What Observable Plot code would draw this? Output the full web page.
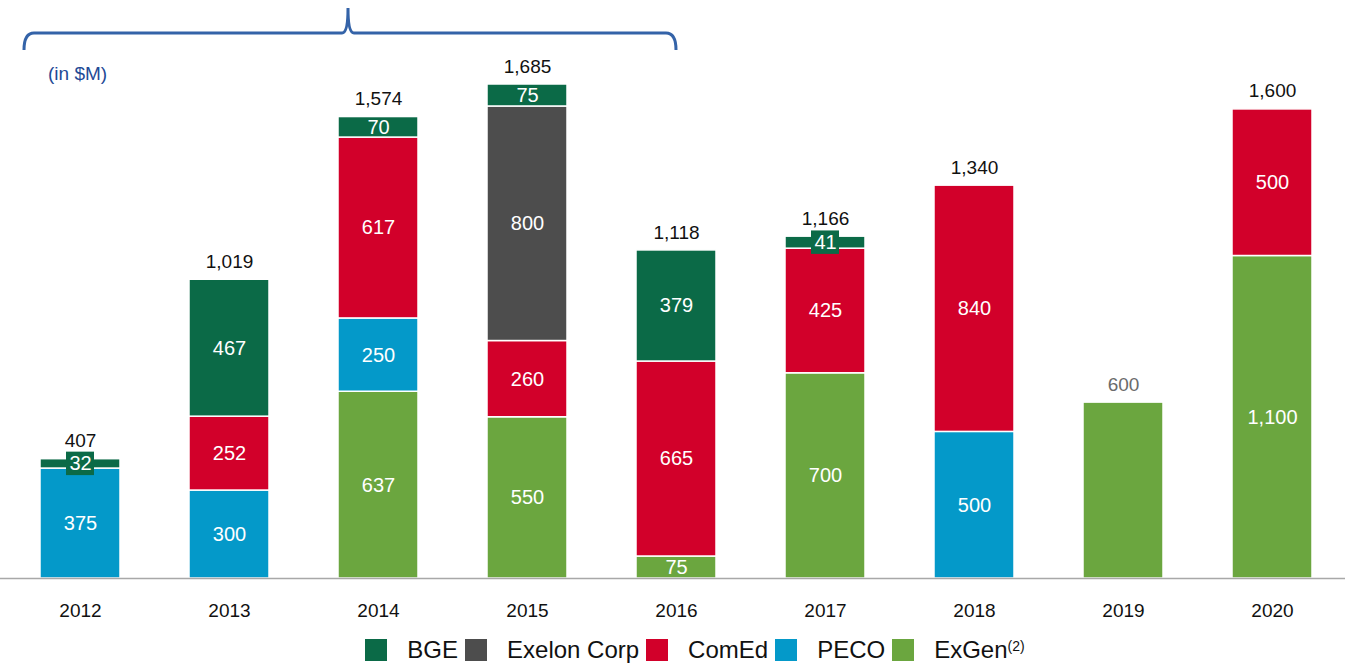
<!DOCTYPE html>
<html>
<head>
<meta charset="utf-8">
<script src="https://cdn.jsdelivr.net/npm/d3@7"></script>
<script src="https://cdn.jsdelivr.net/npm/@observablehq/plot@0.6"></script>
<style>
  html, body { margin: 0; padding: 0; background: #fff; }
  body { width: 1345px; height: 670px; overflow: hidden; font-family: "Liberation Sans", Arial, sans-serif; position: relative; }
  #legend { display: flex; justify-content: center; align-items: center; height: 36px; margin-left: 52px; font-size: 24px; color: #111; }
  .item { display: flex; align-items: center; margin-right: 7px; }
  .sw { width: 22px; height: 22px; margin-right: 20px; margin-left: 0px; }
  .item sup { font-size: 14px; position: relative; top: -4px; }
</style>
</head>
<body>
<div id="chart"></div>
<div id="legend"></div>
<script>
// ---- data ----
const years = ["2012","2013","2014","2015","2016","2017","2018","2019","2020"];
const seriesNames = ["BGE","Exelon Corp","ComEd","PECO","ExGen"];
const seriesColors = ["#0b6a47","#4d4d4d","#d2002a","#0499c9","#6ba63f"];
const stackOrder = ["ExGen","PECO","ComEd","Exelon Corp","BGE"];
const BGE     = [32, 467, 70, 75, 379, 41, null, null, null];
const Exelon  = [null, null, null, 800, null, null, null, null, null];
const ComEd   = [null, 252, 617, 260, 665, 425, 840, null, 500];
const PECO    = [375, 300, 250, null, null, null, 500, null, null];
const ExGen   = [null, null, 637, 550, 75, 700, null, 600, 1100];
const totals  = [407, 1019, 1574, 1685, 1118, 1166, 1340, 600, 1600];

const bySeries = {"BGE": BGE, "Exelon Corp": Exelon, "ComEd": ComEd, "PECO": PECO, "ExGen": ExGen};
const rows = [];
years.forEach((yr, i) => {
  for (const s of stackOrder) {
    const v = bySeries[s][i];
    if (v != null) rows.push({year: yr, series: s, value: v});
  }
});
// small-segment label boxes (data-space midpoints)
const boxes = [];
years.forEach((yr, i) => {
  let acc = 0;
  for (const s of stackOrder) {
    const v = bySeries[s][i];
    if (v == null) continue;
    if (v < 50) boxes.push({year: yr, series: s, mid: acc + v / 2, value: v});
    acc += v;
  }
});
const totalRows = years.map((yr, i) => ({year: yr, total: totals[i], single: yr === "2019"}));
const insideRows = rows.filter(d => d.year !== "2019");

const font = '"Liberation Sans", Arial, sans-serif';
const plot = Plot.plot({
  width: 1345,
  height: 632,
  marginLeft: 8,
  marginRight: 0,
  marginTop: 84,
  marginBottom: 54,
  style: {fontFamily: font, background: "white"},
  x: {domain: years, paddingInner: 0.46, paddingOuter: 0.2, label: null},
  y: {domain: [0, 1685], axis: null},
  color: {domain: seriesNames, range: seriesColors},
  marks: [
    Plot.barY(rows, {x: "year", y: "value", fill: "series", order: stackOrder, stroke: "white", strokeWidth: 1.5}),
    Plot.ruleY([0], {stroke: "#a8a8a8", strokeWidth: 1.5, insetLeft: -10}),
    Plot.barY(boxes, {x: "year", y1: d => d.mid - 40, y2: d => d.mid + 40, fill: "series", insetLeft: 26, insetRight: 26}),
    Plot.text(insideRows, Plot.stackY({x: "year", y: "value", z: "series", order: stackOrder, text: d => d3.format(",")(d.value), fill: "white", fontSize: 20})),
    Plot.text(totalRows, {x: "year", y: "total", text: d => d3.format(",")(d.total), fill: d => d.single ? "#6b6b6b" : "#111", lineAnchor: "bottom", dy: -12, fontSize: 19}),
    Plot.axisX({tickSize: 0, tickPadding: 25, fontSize: 19, label: null, color: "#111"})
  ]
});
document.getElementById("chart").appendChild(plot);

// bracket annotation and unit note
const xs = plot.scale("x");
const svg = d3.select(plot);
const bw = xs.bandwidth;
const left = xs.apply("2012") - 16;
const right = xs.apply("2016") + bw / 2;
const mid = xs.apply("2014") + bw / 2 - 30;
const yTop = 33, yEnd = 50, yPeak = 8;
svg.append("path")
  .attr("d", `M${left},${yEnd} Q${left},${yTop} ${left + 10},${yTop} L${mid - 6},${yTop} Q${mid},${yTop} ${mid},${yPeak} Q${mid},${yTop} ${mid + 6},${yTop} L${right - 10},${yTop} Q${right},${yTop} ${right},${yEnd}`)
  .attr("fill", "none").attr("stroke", "#3463a8").attr("stroke-width", 3);
svg.append("text").attr("x", 48).attr("y", 80).attr("fill", "#1f4a96")
  .attr("text-anchor", "start")
  .attr("font-size", 19).attr("font-family", font).text("(in $M)");

// legend
const leg = document.getElementById("legend");
seriesNames.forEach((s, i) => {
  const it = document.createElement("div");
  it.className = "item";
  const sw = document.createElement("div");
  sw.className = "sw";
  sw.style.background = seriesColors[i];
  it.appendChild(sw);
  const t = document.createElement("span");
  t.textContent = s;
  it.appendChild(t);
  if (s === "ExGen") {
    const sup = document.createElement("sup");
    sup.textContent = "(2)";
    it.appendChild(sup);
  }
  leg.appendChild(it);
});
</script>
</body>
</html>
